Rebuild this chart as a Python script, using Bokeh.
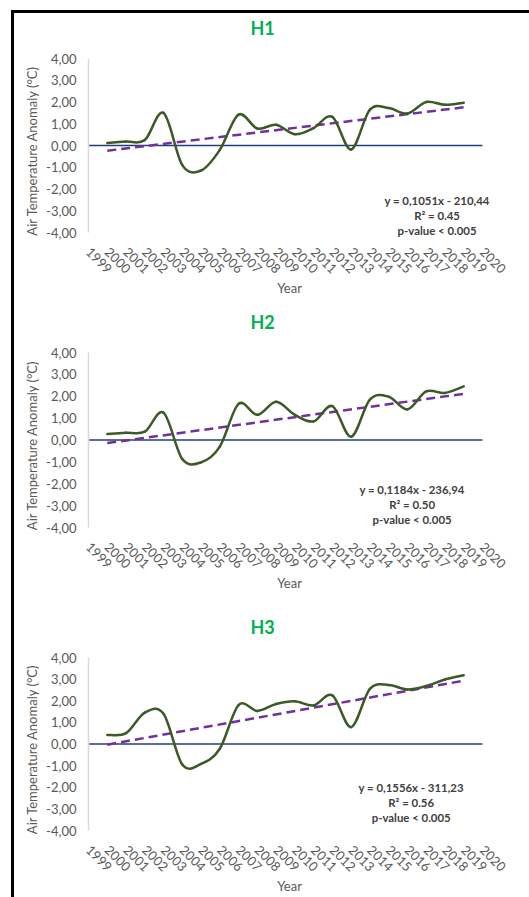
import math

from bokeh.embed import file_html
from bokeh.layouts import column, row
from bokeh.models import Div, FixedTicker, Label, Spacer, Title
from bokeh.plotting import figure
from bokeh.resources import INLINE

# ---- data -------------------------------------------------------------
AXIS_YEARS = list(range(1999, 2021))
YEARS = list(range(2000, 2020))

H1 = [0.12, 0.18, 0.25, 1.50, -0.90, -1.15, -0.20, 1.42, 0.78, 0.95,
      0.52, 0.80, 1.32, -0.18, 1.65, 1.72, 1.47, 2.00, 1.87, 1.97]
H2 = [0.27, 0.33, 0.38, 1.25, -0.87, -1.02, -0.30, 1.65, 1.15, 1.75,
      1.15, 0.85, 1.55, 0.15, 1.85, 1.98, 1.40, 2.22, 2.15, 2.45]
H3 = [0.42, 0.50, 1.45, 1.40, -0.95, -0.92, -0.22, 1.80, 1.53, 1.85,
      1.98, 1.78, 2.25, 0.78, 2.55, 2.73, 2.52, 2.68, 2.98, 3.18]

NAMES = ["H1", "H2", "H3"]
SERIES = [H1, H2, H3]
SLOPES = [0.1051, 0.1184, 0.1556]
INTERCEPTS = [-210.44, -236.94, -311.23]
R2 = ["0.45", "0.50", "0.56"]
P_VALUE = "p-value < 0.005"

Y_TICKS = [-4, -3, -2, -1, 0, 1, 2, 3, 4]
Y_MIN, Y_MAX = -4, 4

# ---- layout / style ---------------------------------------------------
PLOT_HEIGHTS = [174, 175, 173]      # pixel height of the -4..4 band
BORDER_BOTTOM = [68, 78, 60]
EXTRA_BELOW = 7                     # room under -4 so the note is not cut
PX_PER_YEAR = 18.76
FRAME_W = 402
EQ_ANCHOR = [(2017.58, -2.51), (2016.25, -2.27), (2016.2, -2.02)]
EQ_LINE_GAP = 15

FONT = "Lato"
GREY = "#595959"
LINE_GREEN = "#3B5A26"
TREND_PURPLE = "#7030A0"
ZERO_BLUE = "#203F7A"


def comma(v, nd):
    return f"{v:.{nd}f}".replace(".", ",")


def bezier_segments(xs, ys):
    """Cubic Bezier pieces through the points (smoothed line)."""
    n = len(xs)
    seg = {k: [] for k in ("x0", "y0", "x1", "y1", "cx0", "cy0", "cx1", "cy1")}
    for i in range(n - 1):
        xp, yp = (xs[i - 1], ys[i - 1]) if i > 0 else (xs[i], ys[i])
        xn, yn = (xs[i + 2], ys[i + 2]) if i + 2 < n else (xs[i + 1], ys[i + 1])
        seg["x0"].append(xs[i]); seg["y0"].append(ys[i])
        seg["x1"].append(xs[i + 1]); seg["y1"].append(ys[i + 1])
        seg["cx0"].append(xs[i] + (xs[i + 1] - xp) / 6)
        seg["cy0"].append(ys[i] + (ys[i + 1] - yp) / 6)
        seg["cx1"].append(xs[i + 1] - (xn - xs[i]) / 6)
        seg["cy1"].append(ys[i + 1] - (yn - ys[i]) / 6)
    return seg


def make_panel(idx):
    name, vals = NAMES[idx], SERIES[idx]
    slope, icpt = SLOPES[idx], INTERCEPTS[idx]
    band = PLOT_HEIGHTS[idx]
    px_per_unit = band / (Y_MAX - Y_MIN)
    y_start = Y_MIN - EXTRA_BELOW / px_per_unit
    x_end = AXIS_YEARS[0] + FRAME_W / PX_PER_YEAR

    p = figure(
        frame_width=FRAME_W, frame_height=band + EXTRA_BELOW,
        min_border_left=74, min_border_right=515 - 74 - FRAME_W,
        min_border_top=45, min_border_bottom=BORDER_BOTTOM[idx],
        x_range=(AXIS_YEARS[0], x_end), y_range=(y_start, Y_MAX),
        output_backend="svg", toolbar_location=None,
        background_fill_color="white", border_fill_color="white",
    )
    p.outline_line_color = None
    p.grid.grid_line_color = None

    # gap between the panel heading and the plot area
    p.add_layout(Title(text=" ", text_font_size="2px", standoff=16), "above")
    p.add_layout(Title(
        text=name, align="left", offset=162, standoff=0,
        vertical_align="bottom", text_font=FONT, text_font_style="bold",
        text_font_size="18px", text_color="#00B050",
    ), "above")

    # x axis: year labels rotated, no line
    xa = p.xaxis[0]
    xa.ticker = FixedTicker(ticks=AXIS_YEARS)
    xa.major_label_overrides = {y: str(y) for y in AXIS_YEARS}
    xa.major_label_orientation = -math.pi / 4
    xa.axis_line_color = None
    xa.major_tick_line_color = None
    xa.minor_tick_line_color = None
    xa.major_tick_out = 0
    xa.major_tick_in = 0
    xa.major_label_standoff = 10
    xa.axis_label = "Year"
    xa.axis_label_standoff = -1

    # y axis, line limited to the -4..4 band
    ya = p.yaxis[0]
    ya.bounds = (Y_MIN, Y_MAX)
    ya.ticker = FixedTicker(ticks=Y_TICKS)
    ya.major_label_overrides = {t: comma(t, 2) for t in Y_TICKS}
    ya.axis_line_color = "#D9D9D9"
    ya.axis_line_width = 1.5
    ya.major_tick_line_color = None
    ya.minor_tick_line_color = None
    ya.major_tick_out = 0
    ya.major_tick_in = 0
    ya.major_label_standoff = 12
    ya.axis_label = "Air Temperature  Anomaly (°C)"
    ya.axis_label_standoff = 3

    for ax in (xa, ya):
        ax.major_label_text_font = FONT
        ax.major_label_text_font_size = "13px"
        ax.major_label_text_color = GREY
        ax.axis_label_text_font = FONT
        ax.axis_label_text_font_size = "13px"
        ax.axis_label_text_font_style = "normal"
        ax.axis_label_text_color = GREY

    # zero line across the year axis
    p.segment(x0=[AXIS_YEARS[0]], y0=[0], x1=[AXIS_YEARS[-1]], y1=[0],
              line_color=ZERO_BLUE, line_width=1.3)

    # linear trend from the stated equation
    tx = [YEARS[0], YEARS[-1]]
    ty = [slope * x + icpt for x in tx]
    p.line(tx, ty, line_color=TREND_PURPLE, line_width=2.5, line_dash="9 5")

    # smoothed anomaly series
    seg = bezier_segments(YEARS, vals)
    p.bezier(line_color=LINE_GREEN, line_width=2.5, line_cap="round", **seg)

    # equation block
    ex, ey = EQ_ANCHOR[idx]
    lines = [
        f"y = {comma(slope, 4)}x - {comma(abs(icpt), 2)}",
        f"R² = {R2[idx]}",
        P_VALUE,
    ]
    for k, txt in enumerate(lines):
        p.add_layout(Label(
            x=ex, y=ey, y_offset=-EQ_LINE_GAP * k, text=txt,
            text_align="center", text_baseline="middle",
            text_font=FONT, text_font_style="bold", text_font_size="11.4px",
            text_color="#404040",
        ))
    return p


panels = [make_panel(i) for i in range(3)]

top_bar = Div(text="", width=518, height=3, margin=0,
              styles={"background-color": "#000000"})
left_bar = Div(text="", width=3, height=884, margin=0,
               styles={"background-color": "#000000"})

layout = column(
    Spacer(width=529, height=10, margin=0),
    row(
        Spacer(width=11, height=887, margin=0),
        column(top_bar, row(left_bar, column(*panels, spacing=0), spacing=0), spacing=0),
        spacing=0,
    ),
    spacing=0,
)

open("out.html", "w").write(file_html(layout, INLINE))
